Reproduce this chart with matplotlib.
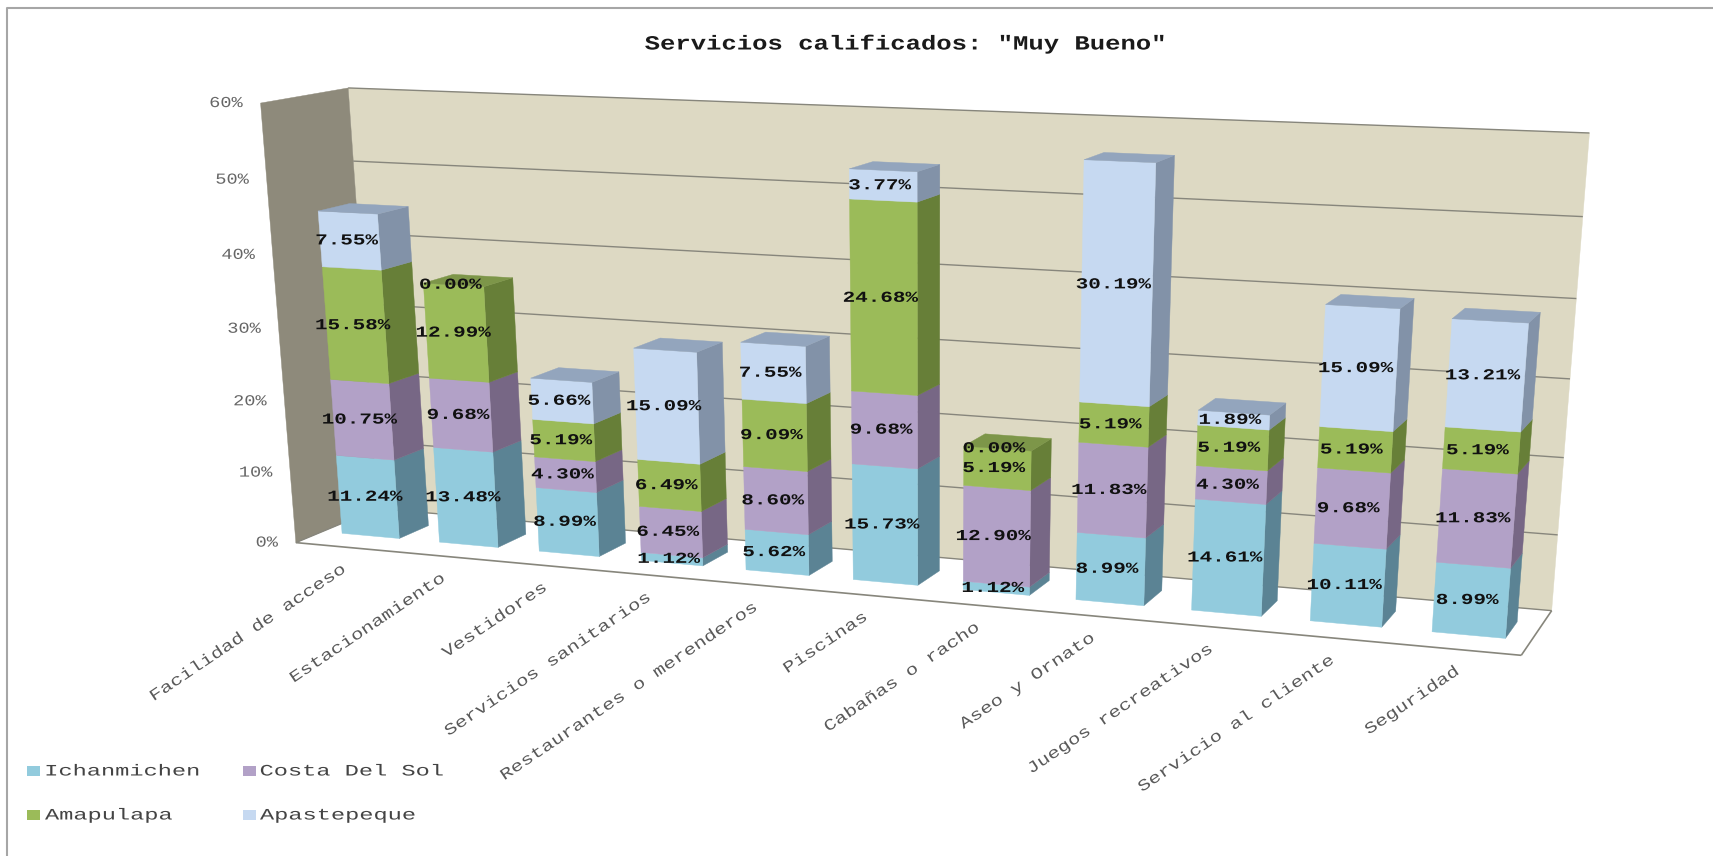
import numpy as np
import matplotlib
matplotlib.use("Agg")
import matplotlib.pyplot as plt
from matplotlib.patheffects import AbstractPathEffect
from matplotlib.transforms import Affine2D

# ---------- data ----------
categories = ["Facilidad de acceso", "Estacionamiento", "Vestidores", "Servicios sanitarios",
              "Restaurantes o merenderos", "Piscinas", "Cabañas o racho", "Aseo y Ornato",
              "Juegos recreativos", "Servicio al cliente", "Seguridad"]
ichanmichen = [11.24, 13.48, 8.99, 1.12, 5.62, 15.73, 1.12, 8.99, 14.61, 10.11, 8.99]
costa_del_sol = [10.75, 9.68, 4.30, 6.45, 8.60, 9.68, 12.90, 11.83, 4.30, 9.68, 11.83]
amapulapa = [15.58, 12.99, 5.19, 6.49, 9.09, 24.68, 5.19, 5.19, 5.19, 5.19, 5.19]
apastepeque = [7.55, 0.00, 5.66, 15.09, 7.55, 3.77, 0.00, 30.19, 1.89, 15.09, 13.21]
series_names = ["Ichanmichen", "Costa Del Sol", "Amapulapa", "Apastepeque"]
y_ticks = [0, 10, 20, 30, 40, 50, 60]
title = 'Servicios calificados: "Muy Bueno"'

# ---------- style ----------
FRONT = ["#92CBDD", "#B2A1C7", "#9BBB59", "#C6D9F1"]
SIDE = ["#5B8394", "#776785", "#677F38", "#8292A8"]
TOP = ["#7FA5B5", "#94869F", "#7D9649", "#93A5BD"]
WALL_BACK, WALL_LEFT, GRID = "#DDD9C3", "#8E8A7B", "#87867C"
MONO = "Liberation Mono"
BW, Z0, Z1 = 0.59, 0.315, 0.685

# ---------- perspective calibrated on the chart box and bar corners ----------
x0, x1 = 0.5 - BW / 2, 0.5 + BW / 2
calib = [
    ((0, 0, 0), (296, 543)), ((0, 60, 0), (262, 102)), ((0, 60, 1), (347, 88)),
    ((11, 60, 1), (1590, 133)), ((11, 0, 1), (1552, 612)), ((11, 0, 0), (1522, 654)),
    ((0, 0, 1), (380, 507)), ((11, 20, 1), (1563, 458)), ((11, 40, 1), (1577, 298)),
    ((x0, 0, Z0), (342, 534)), ((x1, 0, Z0), (397, 539)),
    ((x0, 45.12, Z0), (318, 212)), ((x1, 45.12, Z0), (377, 214)),
    ((5 + x0, 0, Z0), (854, 581)), ((5 + x1, 0, Z0), (917, 585)),
    ((5 + x0, 53.86, Z0), (851, 170)), ((5 + x1, 53.86, Z0), (916, 172)),
    ((7 + x0, 0, Z0), (1077, 600)), ((7 + x1, 0, Z0), (1143, 605)),
    ((7 + x0, 56.2, Z0), (1086, 159)), ((7 + x1, 56.2, Z0), (1155, 162)),
    ((10 + x0, 0, Z0), (1433, 632)), ((10 + x1, 0, Z0), (1504, 638)),
    ((10 + x0, 39.22, Z0), (1453, 319)), ((10 + x1, 39.22, Z0), (1527, 323)),
    ((10 + x1, 39.22, Z1), (1539, 313)), ((10 + x1, 0, Z1), (1518, 622)),
    ((5 + x1, 0, Z1), (939, 570)), ((5 + x1, 53.86, Z1), (939, 164)),
    ((x1, 0, Z1), (428, 525)), ((x1, 45.12, Z1), (408, 207)),
]
A, b = [], []
for (x, y, z), (u, v) in calib:
    X = [x / 11, y / 60, z, 1]
    A.append(X + [0, 0, 0, 0] + [-u * c for c in X[:3]]); b.append(u)
    A.append([0, 0, 0, 0] + X + [-v * c for c in X[:3]]); b.append(v)
sol = np.linalg.lstsq(np.array(A, float), np.array(b, float), rcond=None)[0]
P = np.append(sol, 1.0).reshape(3, 4)


def proj(x, y, z):
    h = P @ np.array([x / 11, y / 60, z, 1.0])
    return h[0] / h[2], h[1] / h[2]


class Stretch(AbstractPathEffect):
    """Widen a text along its baseline, as in the stretched source picture."""
    def __init__(self, sx, anchor="center"):
        super().__init__()
        self.sx, self.anchor = sx, anchor

    def draw_path(self, renderer, gc, tpath, affine, rgbFace=None):
        e = tpath.get_extents()
        c = {"left": e.x0, "center": (e.x0 + e.x1) / 2, "right": e.x1}[self.anchor]
        t = Affine2D().translate(-c, 0).scale(self.sx, 1).translate(c, 0)
        renderer.draw_path(gc, tpath, t + affine, rgbFace)


fig = plt.figure(figsize=(17.13, 8.56), dpi=100, facecolor="white")
ax = fig.add_axes([0, 0, 1, 1])
ax.set_xlim(0, 1713)
ax.set_ylim(856, 0)
ax.axis("off")


def face(pts, color, zo=2):
    xy = [proj(*p) for p in pts]
    ax.fill([q[0] for q in xy], [q[1] for q in xy], color=color, lw=0.3, zorder=zo)


def line(a, b, color=GRID, lw=1.0, zo=1.5):
    (ua, va), (ub, vb) = proj(*a), proj(*b)
    ax.plot([ua, ub], [va, vb], color=color, lw=lw, zorder=zo, solid_capstyle="butt")


# frame
ax.plot([7, 7, 1713], [856, 8, 8], color="#A6A6A6", lw=1.5, zorder=0)

# walls, floor
face([(0, 0, 1), (11, 0, 1), (11, 60, 1), (0, 60, 1)], WALL_BACK, 1)
face([(0, 0, 0), (0, 0, 1), (0, 60, 1), (0, 60, 0)], WALL_LEFT, 1.1)
for t in y_ticks[1:]:
    line((0, t, 1), (11, t, 1))
line((0, 0, 1), (11, 0, 1))
line((0, 0, 0), (11, 0, 0), lw=1.2)
line((11, 0, 0), (11, 0, 1), lw=1.2)
line((0, 0, 0), (0, 0, 1), lw=1.0)

# y ticks
for t in y_ticks:
    u, v = proj(0, t, 0)
    ax.text(u - 18, v, f"{t}%", family=MONO, fontsize=11, color="#666666", ha="right", va="center",
            path_effects=[Stretch(1.22, "right")])

# stacked bars
stacks = [ichanmichen, costa_del_sol, amapulapa, apastepeque]
labels = []
for i in range(len(categories)):
    xa, xb = i + 0.5 - BW / 2, i + 0.5 + BW / 2
    bottom = 0.0
    last = 0
    for s, vals in enumerate(stacks):
        val = vals[i]
        top = bottom + val
        if val > 0:
            last = s
            face([(xb, bottom, Z0), (xb, bottom, Z1), (xb, top, Z1), (xb, top, Z0)], SIDE[s], 2 + i * 0.01)
            face([(xa, bottom, Z0), (xb, bottom, Z0), (xb, top, Z0), (xa, top, Z0)], FRONT[s], 2 + i * 0.01)
        labels.append((i + 0.47, (bottom + top) / 2, val))
        bottom = top
    face([(xa, bottom, Z0), (xb, bottom, Z0), (xb, bottom, Z1), (xa, bottom, Z1)], TOP[last], 2 + i * 0.01)

for x, y, val in labels:
    u, v = proj(x, y, Z0)
    ax.text(u, v, f"{val:.2f}%", family=MONO, fontsize=11, weight="bold", color="#111111",
            ha="center", va="center", zorder=5, path_effects=[Stretch(1.37)])

# category labels
for i, name in enumerate(categories):
    u, v = proj(i + 0.5, 0, 0)
    ax.text(u, v + 20, name, family=MONO, fontsize=11.5, color="#5A5A5A", rotation=34,
            rotation_mode="anchor", ha="right", va="center", path_effects=[Stretch(1.28, "right")])

# title
ax.text(906, 44, title, family=MONO, fontsize=14.5, weight="bold", color="#1A1A1A", ha="center", va="center",
        path_effects=[Stretch(1.27)])

# legend
legend_x = [(27, 45), (243, 260)]
legend_y = [771, 815]
for s, name in enumerate(series_names):
    (xs, xt), yy = legend_x[s % 2], legend_y[s // 2]
    ax.fill([xs, xs + 13, xs + 13, xs], [yy - 5, yy - 5, yy + 5, yy + 5], color=FRONT[s], lw=0)
    ax.text(xt, yy, name, family=MONO, fontsize=11.5, color="#444444", ha="left", va="center",
            path_effects=[Stretch(1.48, "left")])

fig.savefig("out.png", dpi=100)
